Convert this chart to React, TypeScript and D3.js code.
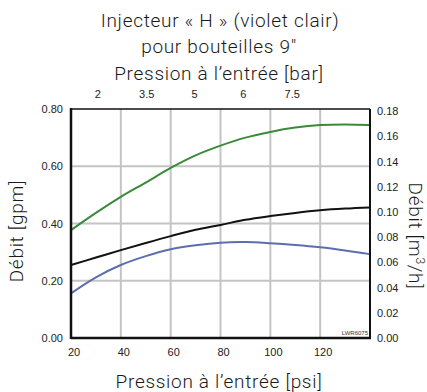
import React from "react";
import * as d3 from "d3";

const psi = [20, 30, 40, 50, 60, 70, 80, 90, 100, 110, 120, 130, 140];
const greenSeries = [0.377, 0.437, 0.493, 0.543, 0.594, 0.638, 0.672, 0.700, 0.720, 0.735, 0.744, 0.746, 0.744];
const blackSeries = [0.255, 0.281, 0.307, 0.332, 0.356, 0.378, 0.395, 0.413, 0.426, 0.437, 0.446, 0.452, 0.456];
const blueSeries = [0.156, 0.212, 0.255, 0.286, 0.310, 0.324, 0.333, 0.335, 0.331, 0.325, 0.317, 0.306, 0.293];

const bottomTicks = [20, 40, 60, 80, 100, 120];
const gridX = [40, 60, 80, 100, 120];
const leftTicks = [0, 0.2, 0.4, 0.6, 0.8];
const rightTicks = [0, 0.02, 0.04, 0.06, 0.08, 0.1, 0.12, 0.14, 0.16, 0.18];
const topLabels = ["2", "3.5", "5", "6", "7.5"];
const topLabelPsi = [30.8, 50.4, 69.6, 89.2, 108.8];
const GPM_TO_M3H = 0.2271;

export default function App() {
  const W = 427, H = 392;
  const left = 71, right = 370, top = 109, bottom = 338;
  const x = d3.scaleLinear().domain([20, 140]).range([left, right]);
  const y = d3.scaleLinear().domain([0, 0.8]).range([bottom, top]);
  const y2 = d3.scaleLinear().domain([0, 0.8 * GPM_TO_M3H]).range([bottom, top]);
  const line = d3
    .line<number>()
    .x((_, i) => x(psi[i]))
    .y((d) => y(d))
    .curve(d3.curveCatmullRom.alpha(0.5));
  const titleFont = "Roboto, 'Open Sans', sans-serif";
  const tickFont = "'Liberation Sans', Arial, sans-serif";
  return (
    <svg width={W} height={H} style={{ position: "absolute", left: 0, top: 0, background: "#fff" }}>
      <rect x={0} y={0} width={W} height={H} fill="#fff" />
      <g fontFamily={titleFont} fontWeight={300} fill="#1a1a1a" fontSize={19} letterSpacing={0.7} textAnchor="middle">
        <text x={220} y={27}>Injecteur « H » (violet clair)</text>
        <text x={219} y={53}>pour bouteilles 9"</text>
        <text x={219} y={80}>Pression à l’entrée [bar]</text>
        <text x={219} y={388}>Pression à l’entrée [psi]</text>
        <text transform={`translate(23,231) rotate(-90)`}>Débit [gpm]</text>
        <text transform={`translate(409,236) rotate(90)`}>
          Débit [m<tspan fontSize={12} dy={-7}>3</tspan>
          <tspan dy={7}>/h]</tspan>
        </text>
      </g>
      <g stroke="#c4c4c4" strokeWidth={2}>
        {gridX.map((v) => (
          <line key={"gx" + v} x1={x(v)} x2={x(v)} y1={top} y2={bottom} />
        ))}
        {leftTicks.slice(1, -1).map((v) => (
          <line key={"gy" + v} x1={left} x2={right} y1={y(v)} y2={y(v)} />
        ))}
      </g>
      <g fill="none" strokeWidth={2}>
        <path d={line(greenSeries) || ""} stroke="#3b8a3a" />
        <path d={line(blackSeries) || ""} stroke="#111" />
        <path d={line(blueSeries) || ""} stroke="#5b6fae" />
      </g>
      <g stroke="#111" fill="none">
        <line x1={left} x2={right} y1={top} y2={top} strokeWidth={1.5} />
        <line x1={right} x2={right} y1={top} y2={bottom} strokeWidth={2} />
        <line x1={left} x2={left} y1={top - 1} y2={bottom + 1} strokeWidth={2.5} />
        <line x1={left} x2={right + 1} y1={bottom} y2={bottom} strokeWidth={2.5} />
      </g>
      <g fontFamily={tickFont} fontSize={11} fill="#222">
        {leftTicks.map((v) => (
          <text key={"l" + v} x={63} y={y(v) + 4} textAnchor="end">
            {v.toFixed(2)}
          </text>
        ))}
        {rightTicks.map((v) => (
          <text key={"r" + v} x={377} y={y2(v) + 4} textAnchor="start">
            {v.toFixed(2)}
          </text>
        ))}
        {bottomTicks.map((v) => (
          <text key={"b" + v} x={x(v) + 3} y={356} textAnchor="middle">
            {v}
          </text>
        ))}
        {topLabels.map((s, i) => (
          <text key={"t" + s} x={x(topLabelPsi[i])} y={98} textAnchor="middle">
            {s}
          </text>
        ))}
      </g>
      <text x={368} y={335} textAnchor="end" fontFamily={tickFont} fontSize={6} fill="#333">
        LWR6075
      </text>
    </svg>
  );
}
